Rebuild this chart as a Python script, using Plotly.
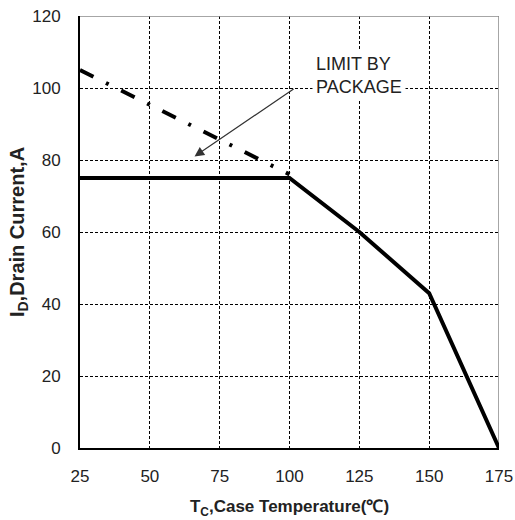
import plotly.graph_objects as go

# Data
temp_solid = [25, 100, 125, 150, 175]
current_solid = [75, 75, 60, 43, 0]
temp_pkg = [25, 100]
current_pkg = [105, 76]
x_ticks = [25, 50, 75, 100, 125, 150, 175]
y_ticks = [0, 20, 40, 60, 80, 100, 120]
label_text = "LIMIT BY<br>PACKAGE"

FONT = "Liberation Sans, Arial, sans-serif"

fig = go.Figure()
fig.add_trace(go.Scatter(x=temp_pkg, y=current_pkg, mode="lines",
                         line=dict(color="black", width=4, dash="15px,14px,3px,14px"),
                         showlegend=False, hoverinfo="skip"))
fig.add_trace(go.Scatter(x=temp_solid, y=current_solid, mode="lines",
                         line=dict(color="black", width=4),
                         showlegend=False, hoverinfo="skip"))

# grey frame top/right
fig.add_shape(type="line", xref="x", yref="y", x0=25, x1=175, y0=120, y1=120,
              line=dict(color="#888888", width=1.5), layer="above")
fig.add_shape(type="line", xref="x", yref="y", x0=175, x1=175, y0=0, y1=120,
              line=dict(color="#888888", width=1.5), layer="below")

# text label
fig.add_annotation(x=108, y=103.5, xref="x", yref="y", text=label_text,
                   showarrow=False, xanchor="left", yanchor="middle", align="left",
                   font=dict(family=FONT, size=18, color="#222222"),
                   bgcolor="white", borderpad=3)
# arrow
fig.add_annotation(x=66, y=81, ax=102, ay=100, xref="x", yref="y", axref="x", ayref="y",
                   text="", showarrow=True, arrowhead=2, arrowsize=1.6, arrowwidth=1.2,
                   arrowcolor="#333333")

fig.update_layout(
    width=515, height=520,
    margin=dict(l=80, r=16, t=16, b=72),
    paper_bgcolor="white", plot_bgcolor="white",
    font=dict(family=FONT, color="#222222"),
)
fig.update_xaxes(range=[25, 175], tickvals=x_ticks, showgrid=True, gridcolor="black",
                 gridwidth=1, griddash="3px,2px", showline=True, linecolor="black", linewidth=2,
                 zeroline=False, ticks="", ticklabelstandoff=12, ticklabeloverflow="allow",
                 tickfont=dict(size=17, family=FONT), automargin=False,
                 title=dict(text="<b>T<sub>C</sub>,Case Temperature(℃)</b>",
                            font=dict(size=17, family=FONT), standoff=15))
fig.update_yaxes(range=[0, 120], tickvals=y_ticks, showgrid=True, gridcolor="black",
                 gridwidth=1, griddash="3px,2px", showline=True, linecolor="black", linewidth=2,
                 zeroline=False, ticks="", ticklabelstandoff=14, ticklabeloverflow="allow",
                 tickfont=dict(size=17, family=FONT), automargin=False,
                 title=dict(text="<b>I<sub>D</sub>,Drain Current,A</b>",
                            font=dict(size=20, family=FONT), standoff=2))

fig.write_html("out.html",
               config={"displayModeBar": False},
               post_script="document.body.style.margin='0';"
                           "document.documentElement.style.overflow='hidden';")
